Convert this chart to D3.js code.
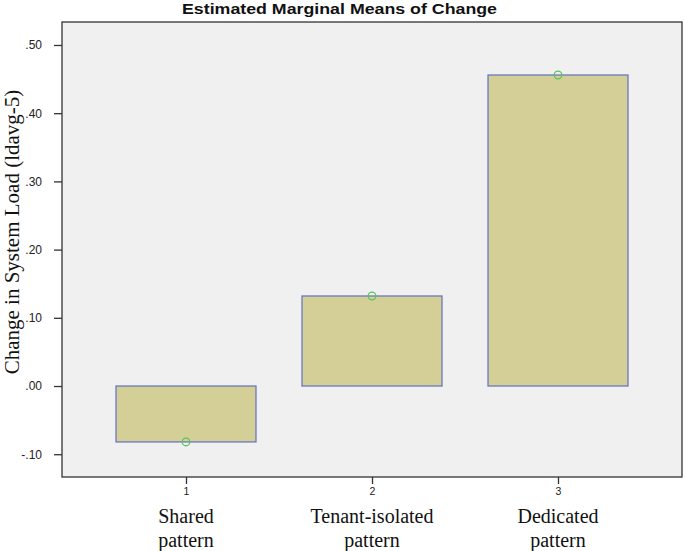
<!DOCTYPE html>
<html><head><meta charset="utf-8">
<script src="https://cdn.jsdelivr.net/npm/d3@7/dist/d3.min.js"></script>
<style>body{margin:0;background:#fff}</style>
</head><body>
<svg id="c" width="685" height="551"></svg>
<script>
const categories = ["1","2","3"];
const categoryNames = [["Shared","pattern"],["Tenant-isolated","pattern"],["Dedicated","pattern"]];
const means = [-0.082, 0.132, 0.456];
const yTicks = [-0.10, 0.00, 0.10, 0.20, 0.30, 0.40, 0.50];
const yTickLabels = ["-.10", ".00", ".10", ".20", ".30", ".40", ".50"];
const title = "Estimated Marginal Means of Change";
const yTitle = "Change in System Load (ldavg-5)";

const svg = d3.select("#c");
const L = 62, R = 682, T = 22, B = 477;
const x = d3.scalePoint().domain(categories).range([L, R]).padding(0.6667);
const y = d3.scaleLinear().domain([-0.1334, 0.5337]).range([B, T]);
const barW = 140;

svg.append("rect").attr("x", L).attr("y", T).attr("width", R - L).attr("height", B - T)
  .attr("fill", "#f0f0f0");

svg.selectAll("rect.bar").data(means).join("rect").attr("class", "bar")
  .attr("x", (d, i) => x(categories[i]) - barW / 2)
  .attr("y", d => y(Math.max(0, d)))
  .attr("width", barW)
  .attr("height", d => Math.abs(y(d) - y(0)))
  .attr("fill", "#d3cf97").attr("stroke", "#6070c0").attr("stroke-width", 1.2);

svg.selectAll("circle.m").data(means).join("circle").attr("class", "m")
  .attr("cx", (d, i) => x(categories[i])).attr("cy", d => y(d)).attr("r", 3.8)
  .attr("fill", "none").attr("stroke", "#5cc45c").attr("stroke-width", 1.3);

svg.append("rect").attr("x", L).attr("y", T).attr("width", R - L).attr("height", B - T)
  .attr("fill", "none").attr("stroke", "#333").attr("stroke-width", 1.3);

const ya = svg.append("g").attr("transform", `translate(${L},0)`)
  .call(d3.axisLeft(y).tickValues(yTicks).tickSize(8).tickPadding(12)
    .tickFormat((d, i) => yTickLabels[i]));
ya.select(".domain").remove();
ya.selectAll("line").attr("stroke", "#333").attr("stroke-width", 1.3);
ya.selectAll("text").attr("font-family", "Liberation Sans, Arial").attr("font-size", 12).attr("fill", "#222");

const xa = svg.append("g").attr("transform", `translate(0,${B})`)
  .call(d3.axisBottom(x).tickSize(7).tickPadding(4));
xa.select(".domain").remove();
xa.selectAll("line").attr("stroke", "#333").attr("stroke-width", 1.3);
xa.selectAll("text").attr("font-family", "Liberation Sans, Arial").attr("font-size", 10.5).attr("fill", "#222");

categories.forEach((c, i) => {
  const t = svg.append("text").attr("x", x(c)).attr("y", 523).attr("text-anchor", "middle")
    .attr("font-family", "Liberation Serif, Times New Roman").attr("font-size", 20).attr("fill", "#111");
  categoryNames[i].forEach((s, j) => t.append("tspan").attr("x", x(c)).attr("dy", j ? 24 : 0).text(s));
});

svg.append("text").attr("x", 339.5).attr("y", 13.5).attr("text-anchor", "middle")
  .attr("font-family", "Liberation Sans, Arial").attr("font-weight", "bold").attr("font-size", 15.5)
  .attr("textLength", 315).attr("lengthAdjust", "spacingAndGlyphs")
  .attr("fill", "#111").text(title);

svg.append("text").attr("transform", "translate(19,232) rotate(-90)").attr("text-anchor", "middle")
  .attr("font-family", "Liberation Serif, Times New Roman").attr("font-size", 21).attr("fill", "#111")
  .text(yTitle);
</script>
</body></html>
